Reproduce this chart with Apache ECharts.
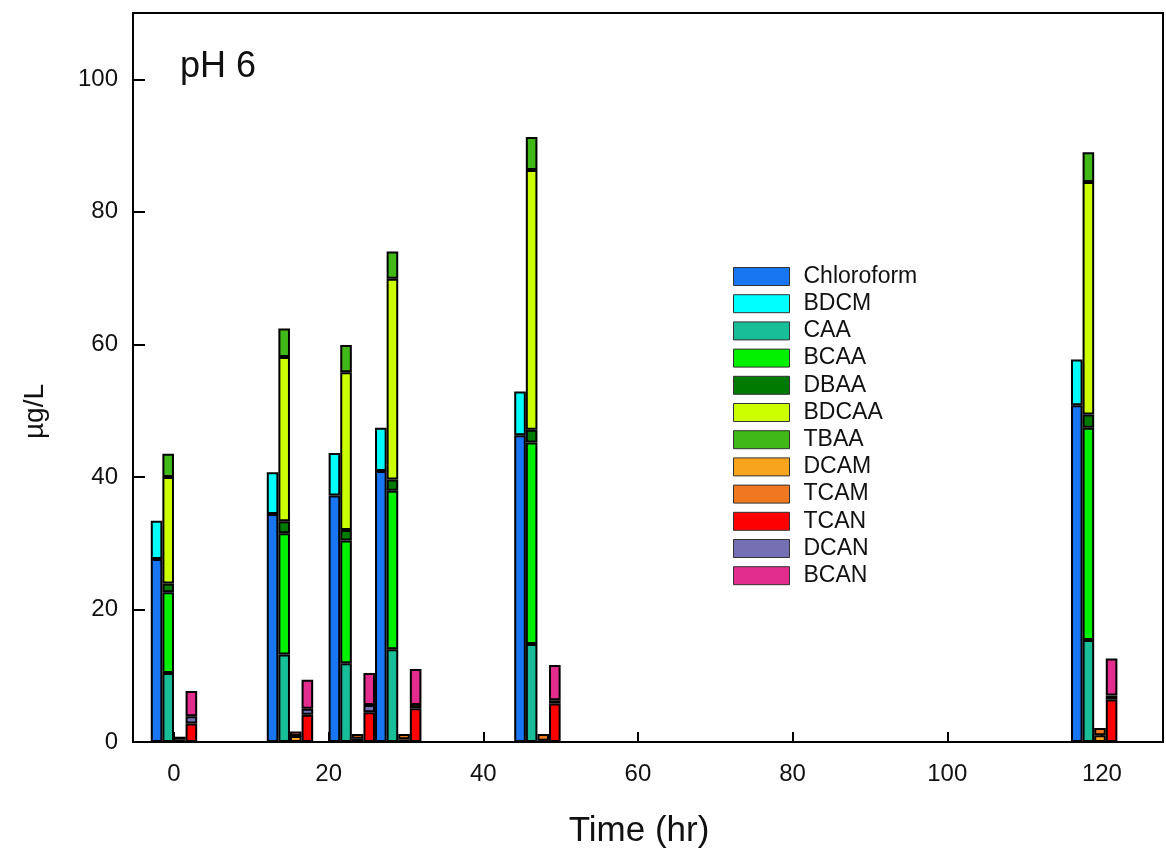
<!DOCTYPE html>
<html>
<head>
<meta charset="utf-8">
<script src="https://cdn.jsdelivr.net/npm/echarts@6/dist/echarts.min.js"></script>
<style>
  html, body { margin: 0; padding: 0; background: #fff; }
  #chart { width: 1166px; height: 857px; }
</style>
</head>
<body>
<div id="chart"></div>
<script>
// sampling times (hr)
var times = [0, 15, 23, 29, 47, 119]

// THMs
var chloroform = [27.6, 34.4, 37.2, 40.9, 46.3, 50.8]
var bdcm = [5.8, 6.3, 6.4, 6.5, 6.6, 6.9]
// HAAs
var caa = [10.4, 13.2, 11.9, 14.0, 14.8, 15.4]
var bcaa = [12.2, 18.3, 18.5, 23.9, 30.4, 32.0]
var dbaa = [1.3, 1.8, 1.6, 1.7, 1.9, 2.0]
var bdcaa = [16.1, 24.8, 23.8, 30.3, 39.2, 35.1]
var tbaa = [3.5, 4.3, 4.1, 4.1, 5.0, 4.5]
// HAMs
var dcam = [0.4, 0.9, 0.5, 0.4, 0.2, 1.0]
var tcam = [0.4, 0.7, 0.7, 0.8, 1.0, 1.1]
// HANs
var tcan = [2.8, 4.1, 4.5, 5.1, 5.8, 6.4]
var dcan = [1.1, 0.9, 1.1, 0.5, 0.5, 0.6]
var bcan = [3.8, 4.4, 4.8, 5.4, 5.3, 5.6]

var xTicks = [0, 20, 40, 60, 80, 100, 120]
var yTicks = [0, 20, 40, 60, 80, 100]

var seriesDefs = [
  { name: 'Chloroform', values: chloroform, stack: 'thm', color: '#1976F2' },
  { name: 'BDCM', values: bdcm, stack: 'thm', color: '#00FFFF' },
  { name: 'CAA', values: caa, stack: 'haa', color: '#17BE98' },
  { name: 'BCAA', values: bcaa, stack: 'haa', color: '#00F000' },
  { name: 'DBAA', values: dbaa, stack: 'haa', color: '#007A00' },
  { name: 'BDCAA', values: bdcaa, stack: 'haa', color: '#CCFF00' },
  { name: 'TBAA', values: tbaa, stack: 'haa', color: '#40B818' },
  { name: 'DCAM', values: dcam, stack: 'ham', color: '#F8A51D' },
  { name: 'TCAM', values: tcam, stack: 'ham', color: '#F07820' },
  { name: 'TCAN', values: tcan, stack: 'han', color: '#FF0000' },
  { name: 'DCAN', values: dcan, stack: 'han', color: '#7570B3' },
  { name: 'BCAN', values: bcan, stack: 'han', color: '#E22D8E' }
]

var font = 'Liberation Sans'

// value first so that the stack runs on the y dimension
var series = seriesDefs.map(function (d) {
  return {
    name: d.name,
    type: 'bar',
    stack: d.stack,
    barWidth: 11.6,
    barGap: '0%',
    dimensions: ['conc', 'time'],
    encode: { x: 'time', y: 'conc' },
    data: times.map(function (t, i) { return [d.values[i], t] }),
    itemStyle: { color: d.color, borderColor: '#000', borderWidth: 2 }
  }
})

var chart = echarts.init(document.getElementById('chart'))
chart.setOption({
  animation: false,
  backgroundColor: '#fff',
  title: {
    text: 'pH 6',
    left: 175,
    top: 44,
    textStyle: { fontFamily: font, fontSize: 36, fontWeight: 'normal', color: '#111' }
  },
  legend: {
    orient: 'vertical',
    left: 733,
    top: 265,
    padding: 0,
    itemWidth: 56,
    itemHeight: 18,
    itemGap: 4.2,
    icon: 'rect',
    selectedMode: false,
    data: seriesDefs.map(function (d) { return d.name }),
    itemStyle: { borderColor: '#333', borderWidth: 1 },
    textStyle: { fontFamily: font, fontSize: 23, color: '#111', padding: [0, 0, 0, 9] }
  },
  grid: {
    left: 133,
    right: 3,
    top: 13,
    bottom: 115,
    show: true,
    borderColor: '#000',
    borderWidth: 2
  },
  xAxis: {
    type: 'value',
    min: -5.3,
    max: 127.9,
    name: 'Time (hr)',
    nameLocation: 'middle',
    nameGap: 72,
    nameTextStyle: { fontFamily: font, fontSize: 35, color: '#111', padding: [0, 18, 0, 0] },
    axisLine: { show: true, onZero: false, lineStyle: { color: '#000', width: 2 } },
    axisTick: { show: true, inside: true, length: 10, lineStyle: { color: '#000', width: 2 }, customValues: xTicks },
    axisLabel: { fontFamily: font, fontSize: 24, color: '#111', margin: 20, customValues: xTicks },
    splitLine: { show: false }
  },
  yAxis: {
    type: 'value',
    min: 0,
    max: 110,
    name: 'µg/L',
    nameLocation: 'middle',
    nameRotate: 90,
    nameGap: 84,
    nameTextStyle: { fontFamily: font, fontSize: 28, color: '#111', padding: [0, 68, 0, 0] },
    axisLine: { show: true, onZero: false, lineStyle: { color: '#000', width: 2 } },
    axisTick: { show: true, inside: true, length: 12, lineStyle: { color: '#000', width: 2 }, customValues: yTicks },
    axisLabel: { fontFamily: font, fontSize: 24, color: '#111', margin: 15, customValues: yTicks },
    splitLine: { show: false }
  },
  series: series
})
</script>
</body>
</html>
